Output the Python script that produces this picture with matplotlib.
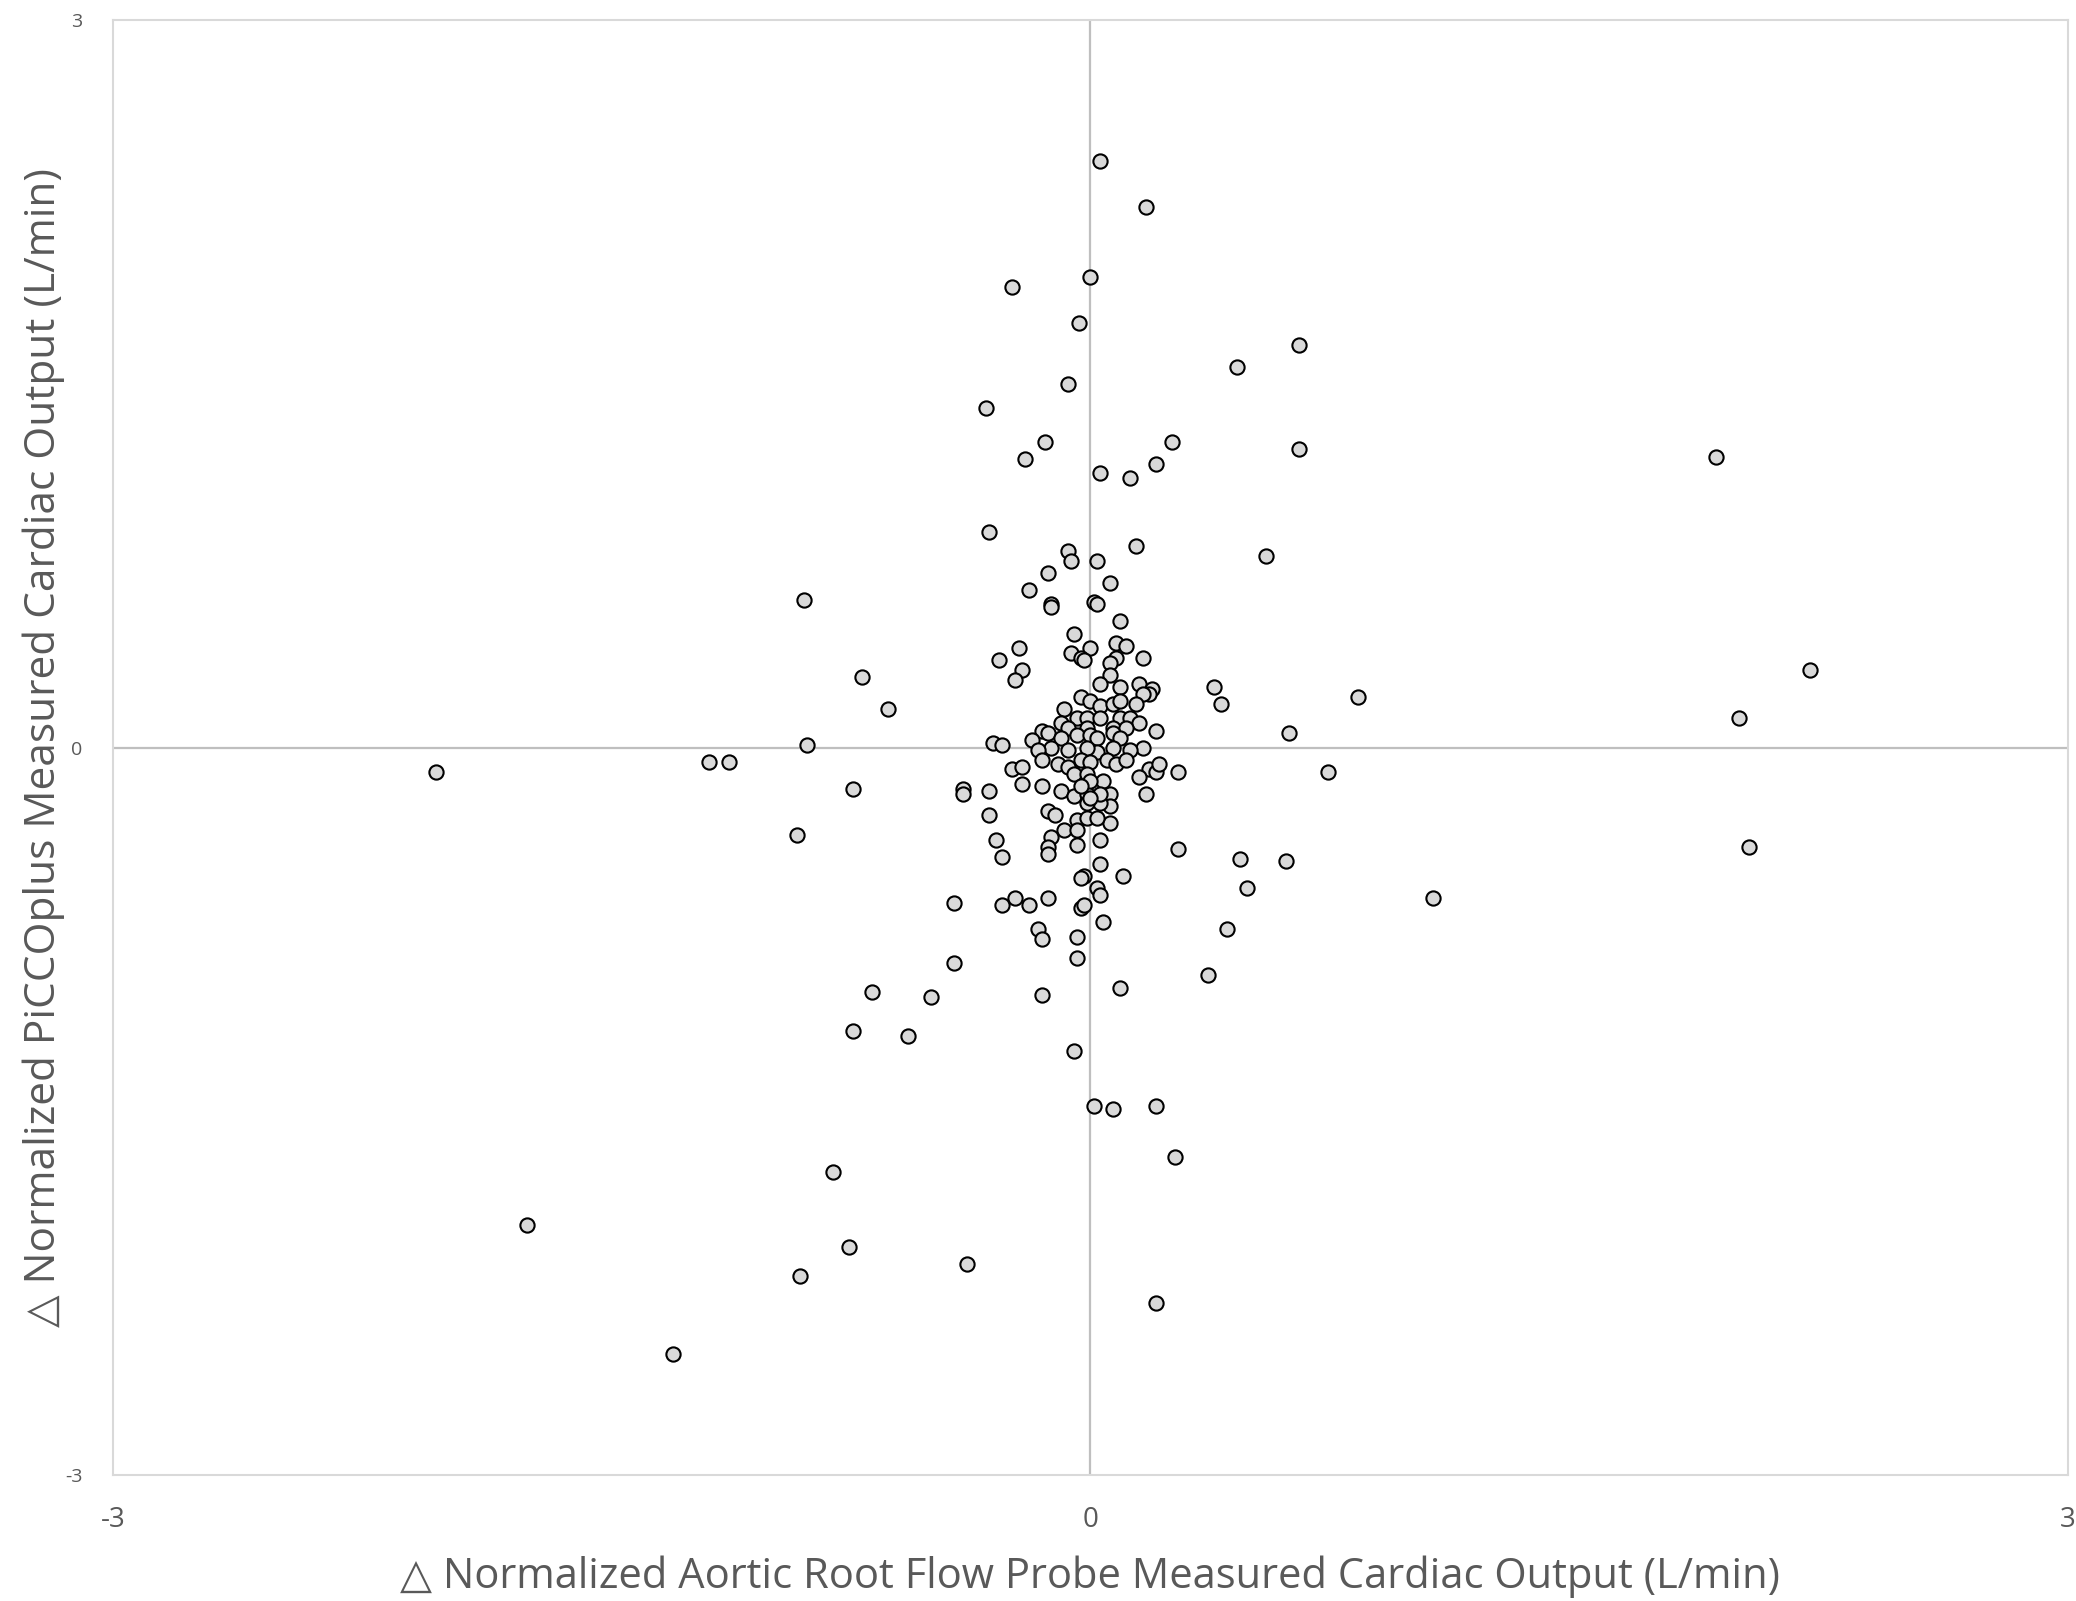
import matplotlib
matplotlib.use('Agg')
import matplotlib.pyplot as plt
import numpy as np

# outer points
x_outer = [0.03, 0.17, -0.24, 0.00, -0.035, 0.64, 0.45, -0.07, -0.32, -0.14,
           0.25, -0.20, 0.64, 1.92, 0.03, 0.12, 0.20, -0.31, 0.14, 0.54,
           -0.07, -0.06, 0.02, -0.13, -0.19, 0.06, -0.88, -0.12, 0.01, 0.09,
           -0.05, 2.21, -0.70, -0.62, 0.82, 0.38, 0.40, 1.99, 0.61, -2.01,
           -1.17, -1.11, -0.87, 0.73, 2.02, -0.73, -0.90, 0.46, 0.60, 0.48,
           1.05, -0.42, 0.42, -0.42, 0.36, -0.67, -0.49, -0.73, -0.56, -0.05,
           -0.15, 0.09, 0.01, 0.07, 0.20, 0.26, -0.79, -1.73, -0.74, -0.38,
           -0.89, 0.20, -1.28]
y_outer = [2.42, 2.23, 1.90, 1.94, 1.75, 1.66, 1.57, 1.50, 1.40, 1.26,
           1.26, 1.19, 1.23, 1.20, 1.13, 1.11, 1.17, 0.89, 0.83, 0.79,
           0.81, 0.77, 0.77, 0.72, 0.65, 0.68, 0.61, 0.59, 0.60, 0.52,
           0.47, 0.32, 0.29, 0.16, 0.21, 0.25, 0.18, 0.12, 0.06, -0.10,
           -0.06, -0.06, 0.01, -0.10, -0.41, -0.17, -0.36, -0.46, -0.47, -0.58,
           -0.62, -0.64, -0.75, -0.89, -0.94, -1.01, -1.03, -1.17, -1.19, -1.25,
           -1.02, -0.99, -1.48, -1.49, -1.48, -1.69, -1.75, -1.97, -2.06, -2.13,
           -2.18, -2.29, -2.50]

# central cluster
x_core = [-0.12, 0.02, 0.08, 0.11, 0.00, -0.06, -0.03, -0.02, 0.16, 0.08,
          0.06, 0.06, 0.03, 0.09, 0.15, 0.19, 0.18, 0.16, 0.14, -0.28,
          -0.22, -0.21, -0.23, -0.03, 0.00, -0.08, 0.03, 0.07, 0.09, -0.04,
          -0.01, 0.03, 0.09, 0.12, 0.15, -0.09, -0.07, -0.01, 0.07, 0.11,
          0.20, -0.15, -0.13, -0.18, -0.09, -0.04, 0.00, 0.02, 0.07, 0.09,
          0.16, 0.12, 0.07, 0.02, -0.01, -0.07, -0.12, -0.16, -0.15, -0.10,
          -0.03, 0.00, 0.05, 0.08, 0.11, 0.18, 0.20, 0.21, 0.27, 0.15,
          0.17, -0.07, -0.05, -0.01, 0.04, 0.06, 0.06, 0.06, -0.09, -0.05,
          -0.01, 0.00, -0.15, -0.21, -0.24, -0.21, -0.31, -0.39, -0.39, -0.31,
          -0.13, -0.11, -0.08, -0.04, -0.01, 0.02, -0.04, 0.03, -0.01, -0.03,
          0.03, -0.29, -0.12, 0.03, -0.30, -0.27, 0.00, -0.27, -0.13, -0.13,
          -0.04, 0.27, 0.03, 0.10, -0.02, -0.03, 0.02, 0.03, -0.27, -0.23,
          -0.19, -0.13, -0.03, -0.16, -0.15, -0.04, 0.04, -0.04, -0.02]
y_core = [0.58, 0.59, 0.43, 0.42, 0.41, 0.39, 0.37, 0.36, 0.37, 0.37,
          0.35, 0.30, 0.26, 0.25, 0.26, 0.24, 0.22, 0.22, 0.18, 0.36,
          0.41, 0.32, 0.28, 0.21, 0.19, 0.16, 0.17, 0.18, 0.19, 0.12,
          0.12, 0.12, 0.12, 0.12, 0.10, 0.10, 0.08, 0.08, 0.08, 0.08,
          0.07, 0.07, 0.06, 0.03, 0.04, 0.05, 0.05, 0.04, 0.06, 0.04,
          0.00, -0.01, 0.00, -0.02, 0.00, -0.01, 0.00, -0.01, -0.05, -0.07,
          -0.05, -0.06, -0.05, -0.07, -0.05, -0.09, -0.10, -0.07, -0.10, -0.12,
          -0.19, -0.08, -0.11, -0.11, -0.14, -0.19, -0.24, -0.31, -0.18, -0.20,
          -0.19, -0.14, -0.16, -0.15, -0.09, -0.08, -0.18, -0.17, -0.19, -0.28,
          -0.26, -0.28, -0.34, -0.30, -0.29, -0.29, -0.34, -0.23, -0.23, -0.16,
          -0.19, -0.38, -0.37, -0.38, 0.02, 0.01, -0.21, -0.45, -0.41, -0.44,
          -0.40, -0.42, -0.48, -0.53, -0.53, -0.54, -0.58, -0.61, -0.65, -0.62,
          -0.65, -0.62, -0.66, -0.75, -0.79, -0.78, -0.72, -0.87, -0.65]

x_vals = np.array(x_outer + x_core)
y_vals = np.array(y_outer + y_core)

x_label = '\u25b3 Normalized Aortic Root Flow Probe Measured Cardiac Output (L/min)'
y_label = '\u25b3 Normalized PiCCOplus Measured Cardiac Output (L/min)'

plt.rcParams['font.family'] = ['Open Sans', 'DejaVu Sans']
plt.rcParams['axes.unicode_minus'] = False

fig = plt.figure(figsize=(20.76, 16.01), dpi=100)
ax = fig.add_axes([0.0544, 0.0787, 0.9417, 0.9088])

ax.axhline(0, color='#bfbfbf', lw=1.6, zorder=1)
ax.axvline(0, color='#bfbfbf', lw=1.6, zorder=1)

ax.scatter(x_vals, y_vals, s=105, facecolor='#d9d9d9', edgecolor='black',
           linewidths=1.5, zorder=3)

ax.set_xlim(-3, 3)
ax.set_ylim(-3, 3)
ax.set_xticks([-3, 0, 3])
ax.set_yticks([-3, 0, 3])
ax.tick_params(axis='both', length=0, colors='#595959')
ax.tick_params(axis='x', labelsize=20, pad=22)
ax.tick_params(axis='y', labelsize=14, pad=22)
for sp in ax.spines.values():
    sp.set_color('#d9d9d9')
    sp.set_linewidth(1.5)

ax.set_xlabel(x_label, fontsize=30, color='#595959', labelpad=16)
ax.set_ylabel(y_label, fontsize=30.5, color='#595959', labelpad=0)

fig.savefig('out.png', dpi=100)
